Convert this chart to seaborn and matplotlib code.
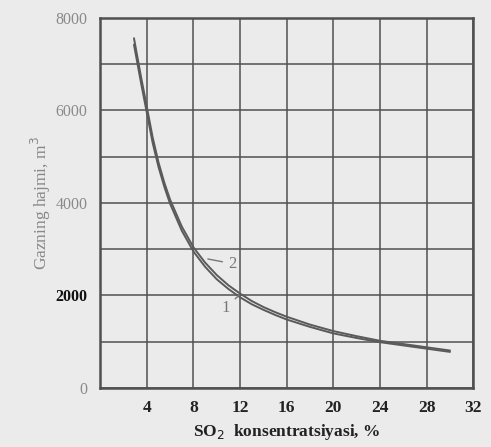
import numpy as np
import pandas as pd
import matplotlib.pyplot as plt
import seaborn as sns

# values
conc = [2.9, 3.5, 4, 4.5, 5, 5.5, 6, 7, 8, 9, 10, 11, 12, 13, 14, 15, 16, 18, 20, 22, 24, 26, 28, 30]
vol_1 = [7420, 6600, 5950, 5300, 4780, 4350, 3980, 3400, 2950, 2620, 2350, 2140, 1960, 1810, 1690, 1580,
         1480, 1320, 1180, 1080, 990, 920, 850, 780]
vol_2 = [7560, 6730, 6080, 5420, 4880, 4440, 4070, 3490, 3040, 2710, 2440, 2220, 2040, 1880, 1750, 1640,
         1540, 1370, 1230, 1120, 1020, 950, 880, 810]

xticks = [4, 8, 12, 16, 20, 24, 28, 32]
yticks = [0, 2000, 4000, 6000, 8000]

df = pd.concat([
    pd.DataFrame({"x": conc, "y": vol_1, "curve": "1"}),
    pd.DataFrame({"x": conc, "y": vol_2, "curve": "2"}),
])

sns.set_theme(style="white")
plt.rcParams['font.family'] = ['Liberation Serif', 'DejaVu Serif']

bg = "#ebebeb"
fig = plt.figure(figsize=(4.91, 4.47), dpi=100, facecolor=bg)
ax = fig.add_axes([0.204, 0.132, 0.76, 0.828])
ax.set_facecolor(bg)

ax = sns.lineplot(data=df, x="x", y="y", hue="curve", estimator=None,
                  palette=["#5a5a5a", "#5a5a5a"], linewidth=1.4, legend=False, ax=ax)

ax.set_xlim(0, 32)
ax.set_ylim(0, 8000)
ax.set_xticks(np.arange(0, 33, 4), minor=False)
ax.set_yticks(np.arange(0, 8001, 1000))
ax.grid(True, color="#505050", linewidth=1.1)
ax.tick_params(length=0, pad=9)
ax.set_xticklabels([""] + [str(t) for t in xticks], fontsize=12.5, fontweight="bold", color="#222222")
ax.set_yticklabels([str(v) if v in yticks else "" for v in range(0, 8001, 1000)],
                   fontsize=11.5, color="#8a8a8a")
for lab in ax.get_yticklabels():
    if lab.get_text() == "2000":
        lab.set_color("#111111")
        lab.set_fontweight("bold")

for s in ax.spines.values():
    s.set_color("#505050")
    s.set_linewidth(1.8)

ax.set_xlabel("SO$_2$  konsentratsiyasi, %", fontsize=12.5, fontweight="bold", color="#222222", labelpad=4)
ax.set_ylabel("Gazning hajmi, m$^3$", fontsize=12.5, color="#888888", labelpad=2)

# curve labels with leader lines
ax.annotate("2", xy=(9.0, 2800), xytext=(11.0, 2600), fontsize=12, color="#777777",
            arrowprops=dict(arrowstyle="-", color="#777777", lw=1))
ax.annotate("1", xy=(12.1, 2050), xytext=(10.4, 1650), fontsize=12, color="#777777",
            arrowprops=dict(arrowstyle="-", color="#777777", lw=1))

plt.savefig("out.png", dpi=100, facecolor=bg)
